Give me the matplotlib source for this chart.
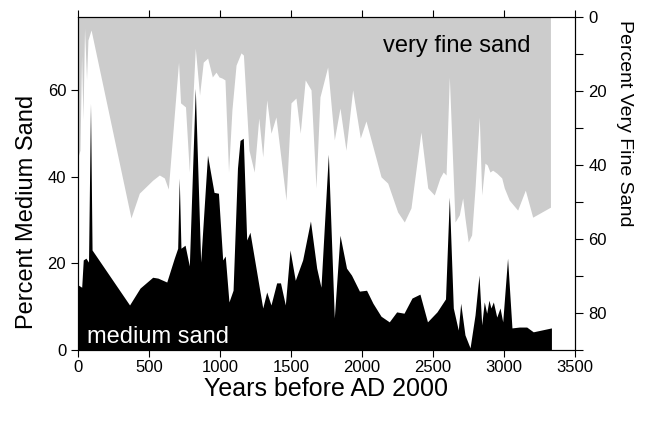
import matplotlib
matplotlib.use('Agg')
import matplotlib.pyplot as plt
from matplotlib.ticker import MultipleLocator

plt.rcParams['font.family'] = ['Liberation Sans', 'DejaVu Sans']

# medium sand (left axis, percent)
medium_years = [2, 26, 37, 56, 74, 88, 99, 363, 437, 526, 563, 625, 678, 702, 713, 725,
                754, 784, 826, 864, 912, 958, 989, 1019, 1037, 1063, 1092, 1123, 1141, 1164,
                1188, 1211, 1301, 1329, 1359, 1399, 1426, 1460, 1493, 1530, 1582, 1637, 1681,
                1711, 1763, 1805, 1845, 1891, 1926, 1982, 2032, 2077, 2134, 2192, 2244, 2296,
                2352, 2408, 2461, 2528, 2588, 2615, 2643, 2678, 2695, 2725, 2761, 2796, 2824,
                2843, 2861, 2878, 2894, 2908, 2925, 2949, 2972, 2991, 3025, 3056, 3108, 3160,
                3206, 3334]
medium_sand = [15.0, 14.5, 20.8, 21.2, 20.3, 57.0, 23.1, 10.4, 14.3, 16.8, 16.6, 15.7, 21.2,
               23.5, 39.7, 23.5, 24.2, 19.4, 60.4, 20.3, 45.0, 36.4, 36.2, 20.8, 21.7, 11.1,
               13.8, 42.0, 48.4, 48.9, 25.4, 27.2, 9.7, 13.4, 10.4, 15.5, 15.5, 10.4, 23.1,
               16.1, 20.8, 29.8, 18.9, 14.5, 45.2, 7.4, 26.5, 18.9, 17.3, 13.6, 13.8, 10.8,
               7.8, 6.5, 8.8, 8.5, 12.0, 12.9, 6.5, 8.8, 11.8, 35.3, 9.7, 4.6, 10.8, 3.5, 0.5,
               8.1, 17.3, 5.8, 11.1, 8.5, 11.5, 9.7, 11.1, 7.6, 9.7, 6.5, 21.2, 5.1, 5.3, 5.3,
               4.2, 5.1]

# very fine sand (right axis, percent, drawn down from the top)
vfs_years = [0, 14, 25, 35, 46, 60, 70, 92, 373, 432, 526, 573, 608, 636, 708, 722, 757, 784,
             826, 856, 882, 913, 946, 972, 993, 1014, 1035, 1060, 1084, 1113, 1148, 1165, 1204,
             1241, 1273, 1301, 1329, 1359, 1394, 1465, 1500, 1535, 1565, 1600, 1641, 1676,
             1704, 1758, 1805, 1845, 1887, 1934, 1988, 2028, 2087, 2134, 2181, 2251, 2298,
             2345, 2415, 2463, 2509, 2549, 2572, 2592, 2615, 2655, 2685, 2709, 2725, 2748,
             2772, 2796, 2826, 2843, 2866, 2882, 2901, 2920, 2949, 2984, 3002, 3037, 3096,
             3150, 3202, 3327]
very_fine_sand = [37.8, 36.0, 10.3, 27.8, 3.0, 17.0, 6.2, 3.5, 54.3, 47.6, 44.1, 42.7, 43.5,
                  46.5, 12.2, 23.2, 24.3, 41.9, 8.4, 21.1, 12.2, 11.1, 16.2, 14.9, 16.2, 16.5,
                  17.0, 41.9, 25.1, 13.0, 9.7, 10.3, 36.0, 41.9, 27.3, 37.8, 22.4, 31.4, 27.0,
                  49.5, 23.2, 21.9, 31.4, 17.0, 19.7, 46.2, 21.6, 13.5, 33.2, 24.6, 36.0, 19.7,
                  32.7, 28.1, 36.5, 43.2, 44.9, 52.7, 55.4, 51.6, 31.1, 46.2, 48.1, 43.5, 41.9,
                  42.7, 16.2, 55.4, 53.5, 48.9, 54.3, 60.8, 58.9, 46.2, 27.0, 48.1, 39.5, 40.0,
                  41.9, 41.4, 42.2, 43.5, 46.2, 49.5, 52.2, 46.8, 54.1, 51.4]

x_ticks = [0, 500, 1000, 1500, 2000, 2500, 3000, 3500]
left_ticks = [0, 20, 40, 60]
right_ticks = [0, 20, 40, 60, 80]

fig = plt.figure(figsize=(6.45, 4.21), dpi=100)
ax = fig.add_axes([78 / 645, 1 - 350 / 421, 497 / 645, 333 / 421])
ax2 = ax.twinx()

# gray very fine sand hangs from the top of the inverted right axis
ax2.fill_between(vfs_years, 0, very_fine_sand, color='#cccccc', linewidth=0)
ax2.set_ylim(90, 0)
ax2.set_yticks(right_ticks)
ax2.yaxis.set_minor_locator(MultipleLocator(10))
ax2.tick_params(axis='y', which='both', direction='out', labelsize=12, width=0.8, length=6)
ax2.set_ylabel('Percent Very Fine Sand', fontsize=14, rotation=270, va='center')
ax2.yaxis.set_label_coords(1.10, 0.68)

# black medium sand on top
ax.set_zorder(ax2.get_zorder() + 1)
ax.patch.set_visible(False)
ax.fill_between(medium_years, 0, medium_sand, color='black', linewidth=0)
ax.set_xlim(0, 3500)
ax.set_ylim(0, 76.9)
ax.set_xticks(x_ticks)
ax.set_yticks(left_ticks)
ax.tick_params(axis='both', direction='out', labelsize=12, length=5, width=0.8)
ax.tick_params(axis='x', top=True, labeltop=False, pad=2)
ax.set_xlabel('Years before AD 2000', fontsize=18)
ax.set_ylabel('Percent Medium Sand', fontsize=17)
ax.xaxis.set_label_coords(0.5, -0.08)
ax.yaxis.set_label_coords(-0.08, 0.414)

ax.text(0.614, 0.895, 'very fine sand', transform=ax.transAxes, fontsize=17,
        color='black', va='baseline', zorder=5)
ax.text(0.0175, 0.021, 'medium sand', transform=ax.transAxes, fontsize=17,
        color='white', va='baseline', zorder=5)

fig.savefig('out.png', dpi=100)
